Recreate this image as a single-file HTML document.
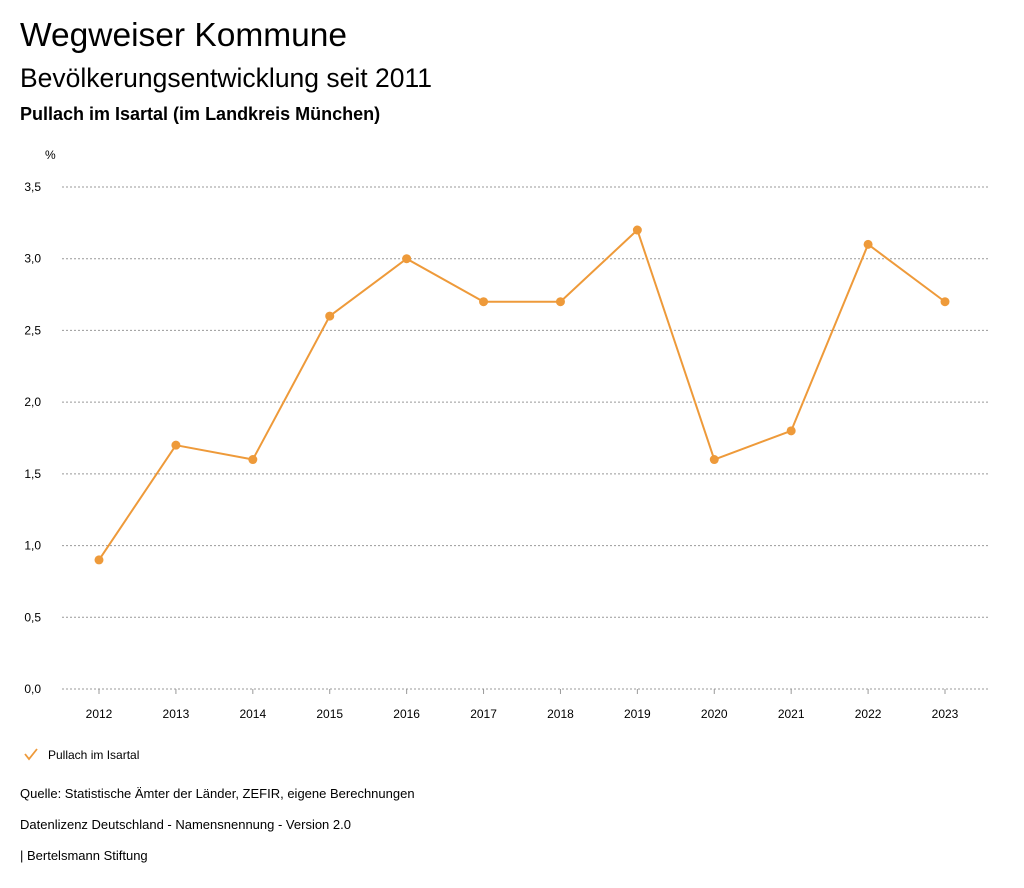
<!DOCTYPE html>
<html><head><meta charset="utf-8"><style>
body{margin:0;background:#fff;font-family:"Liberation Sans",sans-serif;color:#000;}
#wrap{position:relative;width:1024px;height:888px;overflow:hidden;}
.t{position:absolute;white-space:nowrap;}
</style></head><body>
<div id="wrap">
<div class="t" style="left:20px;top:17px;font-size:33.5px;">Wegweiser Kommune</div>
<div class="t" style="left:20px;top:63px;font-size:26.5px;">Bevölkerungsentwicklung seit 2011</div>
<div class="t" style="left:20px;top:104px;font-size:18px;font-weight:bold;">Pullach im Isartal (im Landkreis München)</div>
<svg id="chart" width="1024" height="888" style="position:absolute;left:0;top:0"></svg>
<div class="t" style="left:20px;top:786px;font-size:13px;">Quelle: Statistische Ämter der Länder, ZEFIR, eigene Berechnungen</div>
<div class="t" style="left:20px;top:817px;font-size:13px;">Datenlizenz Deutschland - Namensnennung - Version 2.0</div>
<div class="t" style="left:20px;top:848px;font-size:13px;">| Bertelsmann Stiftung</div>
</div>
<script>
const categories=["2012","2013","2014","2015","2016","2017","2018","2019","2020","2021","2022","2023"];
const values=[0.9,1.7,1.6,2.6,3.0,2.7,2.7,3.2,1.6,1.8,3.1,2.7];
const yTicks=[0,0.5,1,1.5,2,2.5,3,3.5];
const yTickLabels=["0,0","0,5","1,0","1,5","2,0","2,5","3,0","3,5"];
const seriesName="Pullach im Isartal";
const NS="http://www.w3.org/2000/svg";
const svg=document.getElementById('chart');
const color="#ee9a3a";
const x0=99,x1=945,yb=689,yt=187,ymax=3.5;
function xs(i){return x0+(x1-x0)*i/(categories.length-1);}
function ys(v){return yb-(yb-yt)*v/ymax;}
function mk(tag,attrs){const e=document.createElementNS(NS,tag);for(const k in attrs)e.setAttribute(k,attrs[k]);svg.appendChild(e);return e;}
let u=mk('text',{x:45,y:159,'font-size':12,'font-family':'Liberation Sans, sans-serif'});u.textContent='%';


yTicks.forEach((v,i)=>{
  const l=mk('line',{x1:62,x2:990,y1:ys(v),y2:ys(v),stroke:'#999','stroke-dasharray':'2,2','stroke-width':1});
  
  
  const t=mk('text',{x:41,y:ys(v)+4,'text-anchor':'end','font-size':12,'font-family':'Liberation Sans, sans-serif'});
  t.textContent=yTickLabels[i];
  
  
});
categories.forEach((c,i)=>{
  const k=mk('line',{x1:xs(i),x2:xs(i),y1:yb,y2:yb+5,stroke:'#999'});
  
  
  const t=mk('text',{x:xs(i),y:718,'text-anchor':'middle','font-size':12,'font-family':'Liberation Sans, sans-serif'});
  t.textContent=c;
  
  
});
const p=mk('polyline',{points:values.map((v,i)=>xs(i)+','+ys(v)).join(' '),fill:'none',stroke:color,'stroke-width':2});


values.forEach((v,i)=>{
  const c=mk('circle',{cx:xs(i),cy:ys(v),r:4.5,fill:color});
  
  
});
const lg=mk('polyline',{points:'25,754 29,759 37,749',fill:'none',stroke:color,'stroke-width':1.8});


const lt=mk('text',{x:48,y:759,'font-size':12,'font-family':'Liberation Sans, sans-serif'});
lt.textContent=seriesName;


</script>
</body></html>
